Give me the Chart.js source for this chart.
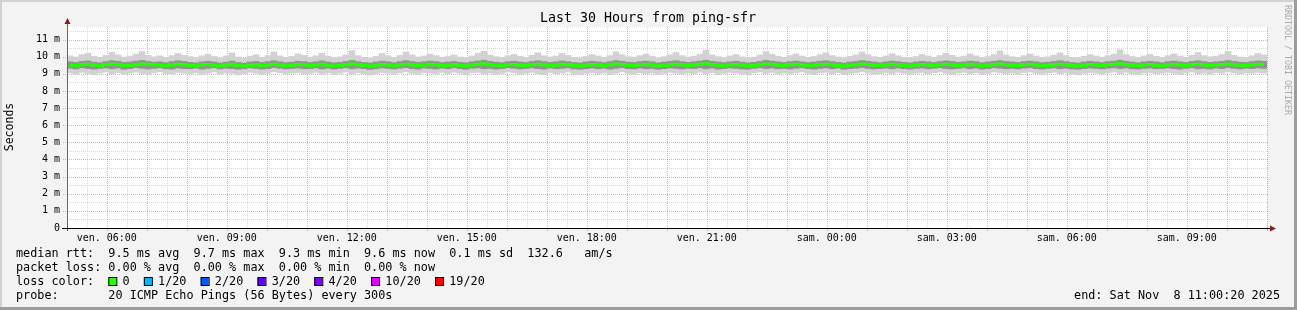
<!DOCTYPE html>
<html>
<head>
<meta charset="utf-8">
<script src="https://cdn.jsdelivr.net/npm/chart.js@4.4.0/dist/chart.umd.min.js"></script>
<style>
  body { margin: 0; background: #f3f3f3; }
  canvas { display: block; }
</style>
</head>
<body>
<canvas id="ping_chart" width="1297" height="310"></canvas>
<script>
// ping-sfr, last 30 hours, one sample every 9 minutes (ms)
var startHour = 5 + 20 / 3600   // fri 05:00:20
var stepHour = 0.15
var dayNames = ["ven.", "sam."]

var median = [
  9.50,9.48,9.53,9.55,9.51,9.47,9.52,9.56,9.54,9.49,9.50,9.53,9.57,9.55,9.52,9.50,9.48,9.51,9.55,9.53,
  9.49,9.47,9.52,9.54,9.50,9.46,9.51,9.55,9.49,9.45,9.50,9.53,9.48,9.52,9.56,9.51,9.47,9.50,9.54,9.52,
  9.48,9.51,9.55,9.50,9.46,9.49,9.53,9.57,9.52,9.48,9.45,9.50,9.54,9.51,9.47,9.52,9.56,9.53,9.49,9.51,
  9.55,9.52,9.48,9.50,9.53,9.49,9.46,9.51,9.55,9.58,9.53,9.50,9.47,9.52,9.54,9.50,9.48,9.53,9.56,9.52,
  9.49,9.51,9.55,9.52,9.48,9.45,9.50,9.54,9.51,9.47,9.52,9.57,9.54,9.50,9.48,9.52,9.55,9.51,9.46,9.49,
  9.53,9.56,9.52,9.49,9.51,9.55,9.58,9.54,9.50,9.47,9.51,9.54,9.50,9.46,9.49,9.53,9.57,9.55,9.51,9.48,
  9.52,9.55,9.51,9.48,9.50,9.54,9.56,9.52,9.49,9.45,9.50,9.53,9.57,9.54,9.50,9.47,9.51,9.55,9.52,9.49,
  9.46,9.50,9.54,9.51,9.48,9.52,9.56,9.53,9.49,9.51,9.55,9.52,9.47,9.50,9.54,9.57,9.53,9.50,9.48,9.52,
  9.55,9.51,9.47,9.49,9.53,9.56,9.52,9.48,9.45,9.50,9.54,9.51,9.48,9.52,9.55,9.58,9.54,9.50,9.47,9.51,
  9.54,9.50,9.47,9.52,9.55,9.51,9.48,9.53,9.56,9.52,9.49,9.51,9.54,9.57,9.53,9.50,9.48,9.52,9.56,9.54
]
var innerLo = [
  9.32,9.28,9.35,9.30,9.27,9.31,9.34,9.29,9.33,9.26,9.30,9.36,9.32,9.28,9.31,9.35,9.29,9.27,9.33,9.30,
  9.29,9.33,9.27,9.31,9.35,9.28,9.32,9.30,9.26,9.29,9.34,9.31,9.27,9.30,9.36,9.32,9.28,9.31,9.33,9.29,
  9.30,9.34,9.28,9.32,9.27,9.31,9.35,9.29,9.33,9.30,9.25,9.29,9.34,9.31,9.28,9.32,9.36,9.30,9.27,9.33,
  9.31,9.28,9.33,9.29,9.35,9.30,9.26,9.32,9.34,9.29,9.31,9.27,9.30,9.35,9.32,9.28,9.31,9.34,9.30,9.27,
  9.33,9.29,9.31,9.35,9.28,9.26,9.30,9.33,9.29,9.32,9.27,9.31,9.36,9.30,9.28,9.33,9.29,9.31,9.26,9.30,
  9.34,9.31,9.28,9.32,9.30,9.35,9.29,9.33,9.27,9.30,9.34,9.31,9.28,9.26,9.32,9.35,9.30,9.33,9.29,9.31,
  9.28,9.32,9.35,9.30,9.27,9.31,9.34,9.29,9.33,9.26,9.30,9.32,9.36,9.31,9.28,9.30,9.33,9.29,9.34,9.30,
  9.27,9.31,9.33,9.29,9.32,9.35,9.30,9.28,9.31,9.34,9.29,9.33,9.27,9.30,9.35,9.32,9.29,9.31,9.28,9.33,
  9.35,9.30,9.27,9.31,9.34,9.29,9.32,9.28,9.26,9.30,9.33,9.31,9.28,9.32,9.35,9.30,9.34,9.29,9.27,9.31,
  9.33,9.29,9.31,9.34,9.30,9.27,9.32,9.35,9.29,9.31,9.28,9.33,9.30,9.36,9.31,9.28,9.32,9.30,9.34,9.31
]
var innerHi = [
  9.70,9.66,9.72,9.75,9.68,9.64,9.71,9.77,9.73,9.67,9.69,9.74,9.78,9.72,9.68,9.70,9.65,9.71,9.76,9.72,
  9.67,9.64,9.70,9.73,9.69,9.63,9.68,9.74,9.66,9.62,9.69,9.72,9.66,9.71,9.76,9.70,9.65,9.68,9.73,9.71,
  9.66,9.70,9.75,9.69,9.64,9.67,9.72,9.78,9.71,9.66,9.63,9.69,9.74,9.70,9.65,9.71,9.77,9.72,9.67,9.70,
  9.74,9.71,9.66,9.69,9.72,9.67,9.64,9.70,9.75,9.79,9.72,9.68,9.65,9.71,9.73,9.69,9.66,9.72,9.76,9.71,
  9.67,9.70,9.75,9.71,9.66,9.63,9.69,9.73,9.70,9.65,9.71,9.77,9.73,9.68,9.66,9.71,9.74,9.70,9.64,9.68,
  9.72,9.76,9.71,9.67,9.70,9.74,9.79,9.73,9.69,9.65,9.70,9.73,9.68,9.64,9.67,9.72,9.78,9.74,9.70,9.66,
  9.71,9.74,9.70,9.66,9.69,9.73,9.76,9.71,9.67,9.63,9.69,9.72,9.77,9.73,9.69,9.65,9.70,9.74,9.71,9.67,
  9.64,9.69,9.73,9.70,9.66,9.71,9.75,9.72,9.67,9.70,9.74,9.71,9.65,9.69,9.73,9.77,9.72,9.69,9.66,9.71,
  9.74,9.70,9.65,9.68,9.72,9.76,9.71,9.66,9.63,9.69,9.73,9.70,9.66,9.71,9.74,9.79,9.73,9.69,9.65,9.70,
  9.73,9.69,9.65,9.71,9.74,9.70,9.66,9.72,9.76,9.71,9.67,9.70,9.73,9.77,9.72,9.68,9.66,9.71,9.75,9.73
]
var outerLo = [
  9.05,8.98,9.08,9.02,8.95,9.04,9.10,9.00,9.06,8.97,9.03,9.09,9.01,8.96,9.05,9.11,9.02,8.99,9.07,9.03,
  9.00,9.06,8.96,9.04,9.10,8.98,9.05,9.02,8.94,9.01,9.08,9.03,8.97,9.04,9.12,9.06,8.99,9.03,9.07,9.00,
  9.02,9.08,8.97,9.05,8.95,9.03,9.10,8.99,9.06,9.01,8.93,9.00,9.07,9.04,8.98,9.05,9.11,9.02,8.96,9.06,
  9.04,8.99,9.07,9.01,9.09,9.03,8.95,9.05,9.08,9.00,9.04,8.97,9.02,9.10,9.06,8.98,9.03,9.08,9.01,8.96,
  9.07,9.00,9.04,9.10,8.98,8.94,9.02,9.07,9.00,9.05,8.96,9.03,9.11,9.02,8.99,9.06,9.01,9.04,8.95,9.02,
  9.08,9.03,8.98,9.05,9.01,9.09,9.00,9.06,8.96,9.02,9.08,9.04,8.99,8.94,9.05,9.10,9.02,9.07,8.99,9.04,
  8.98,9.05,9.10,9.02,8.96,9.04,9.08,9.00,9.06,8.95,9.02,9.05,9.12,9.04,8.98,9.01,9.07,9.00,9.08,9.03,
  8.96,9.03,9.07,9.00,9.05,9.10,9.02,8.98,9.04,9.08,9.00,9.06,8.97,9.02,9.10,9.05,9.00,9.04,8.98,9.07,
  9.10,9.02,8.96,9.04,9.08,9.00,9.05,8.98,8.94,9.02,9.07,9.03,8.99,9.05,9.10,9.01,9.08,9.00,8.96,9.04,
  9.07,9.00,9.03,9.08,9.02,8.96,9.05,9.10,9.00,9.04,8.98,9.06,9.02,9.11,9.04,8.99,9.05,9.02,9.08,9.04
]
var outerHi = [
  10.05,9.98,10.12,10.20,10.02,9.95,10.08,10.25,10.10,9.97,10.03,10.15,10.30,10.08,9.99,10.05,9.94,10.06,10.18,10.07,
  10.00,9.93,10.05,10.14,10.02,9.92,10.04,10.22,9.98,9.90,10.03,10.11,9.96,10.06,10.28,10.05,9.95,10.02,10.16,10.07,
  9.97,10.05,10.20,10.03,9.93,9.99,10.10,10.35,10.06,9.96,9.91,10.02,10.18,10.05,9.95,10.07,10.26,10.10,9.98,10.04,
  10.15,10.06,9.96,10.01,10.10,9.98,9.93,10.04,10.20,10.32,10.09,10.00,9.94,10.06,10.13,10.02,9.96,10.08,10.22,10.05,
  9.98,10.04,10.18,10.07,9.96,9.91,10.02,10.12,10.04,9.95,10.06,10.28,10.11,10.00,9.97,10.06,10.15,10.03,9.93,10.00,
  10.10,10.24,10.06,9.98,10.03,10.14,10.38,10.10,10.00,9.94,10.04,10.12,9.99,9.92,9.98,10.09,10.30,10.14,10.03,9.96,
  10.06,10.16,10.04,9.96,10.01,10.12,10.22,10.06,9.98,9.91,10.02,10.10,10.27,10.12,10.00,9.95,10.04,10.17,10.05,9.97,
  9.93,10.01,10.13,10.04,9.96,10.07,10.20,10.08,9.98,10.03,10.16,10.05,9.94,10.01,10.12,10.34,10.09,10.00,9.96,10.06,
  10.16,10.04,9.95,9.99,10.09,10.22,10.06,9.96,9.91,10.02,10.12,10.04,9.97,10.06,10.15,10.40,10.12,10.01,9.95,10.04,
  10.13,10.02,9.95,10.06,10.16,10.04,9.97,10.08,10.24,10.06,9.99,10.03,10.12,10.30,10.08,9.98,9.96,10.05,10.18,10.10
]

var rttLine = "median rtt:  9.5 ms avg  9.7 ms max  9.3 ms min  9.6 ms now  0.1 ms sd  132.6   am/s"
var lossLine = "packet loss: 0.00 % avg  0.00 % max  0.00 % min  0.00 % now"
var probeLine = "probe:       20 ICMP Echo Pings (56 Bytes) every 300s"
var endLine = "end: Sat Nov  8 11:00:20 2025"
var lossLabels = ["0", "1/20", "2/20", "3/20", "4/20", "10/20", "19/20"]
var lossColors = ["#26ff00", "#00b8ff", "#0059ff", "#5e00ff", "#7e00ff", "#dd00ff", "#ff0000"]

var mono = '"DejaVu Sans Mono", monospace'
var redGrid = "rgba(255, 40, 40, 0.42)"
var grayGrid = "#d8d8d8"

var times = median.map(function (v, i) { return startHour + (i + 0.5) * stepHour })
function pairs(lo, hi) {
    return times.map(function (t, i) { return { x: t, y: [lo[i], hi[i]] } })
}

var xTicks = []
for (var h = 5.5; h <= 35; h += 0.5) xTicks.push(h)
var yTicks = []
for (var m = 0; m <= 11.5; m += 0.5) yTicks.push(m)

// rrdtool style dotted grid, drawn from the chart scales
var grid = {
    id: "grid",
    beforeDatasetsDraw: function (chart) {
        var ctx = chart.ctx, a = chart.chartArea
        var xs = chart.scales.x, ys = chart.scales.y
        ctx.save()
        ctx.lineWidth = 1
        // minor lines first, red major lines over them
        ;[false, true].forEach(function (wantMajor) {
            ctx.strokeStyle = wantMajor ? redGrid : grayGrid
            xTicks.forEach(function (v) {
                if ((v % 1 === 0) !== wantMajor) return
                var px = Math.round(xs.getPixelForValue(v)) + 0.5
                ctx.setLineDash([1, 1])
                ctx.beginPath(); ctx.moveTo(px, a.top); ctx.lineTo(px, a.bottom); ctx.stroke()
                if (wantMajor) {
                    ctx.setLineDash([])
                    ctx.beginPath(); ctx.moveTo(px, a.bottom); ctx.lineTo(px, a.bottom + 3); ctx.stroke()
                }
            })
            yTicks.forEach(function (v) {
                if ((v % 1 === 0) !== wantMajor) return
                var py = Math.round(ys.getPixelForValue(v)) + 0.5
                ctx.setLineDash([1, 1])
                ctx.beginPath(); ctx.moveTo(wantMajor ? a.left - 4 : a.left, py); ctx.lineTo(a.right + 2, py); ctx.stroke()
            })
        })
        ctx.restore()
    }
}

var frame = {
    id: "frame",
    beforeDraw: function (chart) {
        var ctx = chart.ctx, a = chart.chartArea
        ctx.save()
        ctx.fillStyle = "#d2d2d2"
        ctx.fillRect(0, 0, 1297, 310)
        ctx.fillStyle = "#9c9c9c"
        ctx.fillRect(1294, 0, 3, 310)
        ctx.fillRect(0, 307, 1297, 3)
        ctx.fillStyle = "#f3f3f3"
        ctx.fillRect(2, 2, 1292, 305)
        ctx.fillStyle = "#ffffff"
        ctx.fillRect(a.left, a.top, a.right - a.left, a.bottom - a.top)
        ctx.restore()
    },
    afterDraw: function (chart) {
        var ctx = chart.ctx, a = chart.chartArea
        ctx.save()
        // axes
        ctx.lineWidth = 1
        ctx.strokeStyle = "#666"
        ctx.beginPath(); ctx.moveTo(a.left + 0.5, a.bottom + 3); ctx.lineTo(a.left + 0.5, 23); ctx.stroke()
        ctx.strokeStyle = "#000"
        ctx.beginPath(); ctx.moveTo(a.left - 5, a.bottom + 0.5); ctx.lineTo(a.right + 4, a.bottom + 0.5); ctx.stroke()
        ctx.fillStyle = "#8b1c1c"
        ctx.beginPath(); ctx.moveTo(a.left + 0.5, 18); ctx.lineTo(a.left + 3.5, 24); ctx.lineTo(a.left - 2.5, 24); ctx.fill()
        ctx.beginPath(); ctx.moveTo(a.right + 9, a.bottom + 0.5); ctx.lineTo(a.right + 3, a.bottom - 2.5); ctx.lineTo(a.right + 3, a.bottom + 3.5); ctx.fill()

        // title and axis name
        ctx.fillStyle = "#000"
        ctx.textBaseline = "middle"
        ctx.textAlign = "center"
        ctx.font = "13.3px " + mono
        ctx.fillText("Last 30 Hours from ping-sfr", 648, 19)
        ctx.save()
        ctx.translate(10, 127)
        ctx.rotate(-Math.PI / 2)
        ctx.font = "11.5px " + mono
        ctx.fillText("Seconds", 0, 0)
        ctx.restore()

        ctx.save()
        ctx.translate(1287, 5)
        ctx.rotate(Math.PI / 2)
        ctx.textAlign = "left"
        ctx.fillStyle = "#aaa"
        ctx.font = "8.3px " + mono
        ctx.fillText("RRDTOOL / TOBI OETIKER", 0, 0)
        ctx.restore()

        // legend
        ctx.textAlign = "left"
        ctx.font = "11.8px " + mono
        var cw = ctx.measureText("0").width
        ctx.fillText(rttLine, 16, 254)
        ctx.fillText(lossLine, 16, 268)
        var x = 16
        ctx.fillText("loss color:", x, 282)
        x += 13 * cw
        lossLabels.forEach(function (lbl, i) {
            ctx.fillStyle = lossColors[i]
            ctx.fillRect(x, 277.5, 8, 8)
            ctx.strokeStyle = "#000"
            ctx.strokeRect(x + 0.5, 277.5, 8, 8)
            ctx.fillStyle = "#000"
            ctx.fillText(lbl, x + 2 * cw, 282)
            x += (lbl.length + 4) * cw
        })
        ctx.fillText(probeLine, 16, 296)
        ctx.textAlign = "right"
        ctx.fillText(endLine, 1280, 296)
        ctx.restore()
    }
}

var pingCanvas = document.getElementById("ping_chart")
var config = {
    type: "bar",
    data: {
        datasets: [{
            type: "line",
            label: "median",
            data: times.map(function (t, i) { return { x: t, y: median[i] } }),
            borderColor: "#22ff00",
            backgroundColor: "#22ff00",
            borderWidth: 3,
            stepped: "middle",
            pointRadius: 0,
            fill: false,
            order: 0
        },
        {
            label: "inner",
            data: pairs(innerLo, innerHi),
            backgroundColor: "#929292",
            borderWidth: 0,
            grouped: false,
            barPercentage: 1,
            categoryPercentage: 1,
            order: 1
        },
        {
            label: "outer",
            data: pairs(outerLo, outerHi),
            backgroundColor: "#d2d2d2",
            borderWidth: 0,
            grouped: false,
            barPercentage: 1,
            categoryPercentage: 1,
            order: 2
        }
        ]
    },
    options: {
        responsive: false,
        animation: false,
        devicePixelRatio: 1,
        layout: { padding: { top: 27, right: 30, left: 0, bottom: 0 } },
        plugins: { legend: { display: false }, tooltip: { enabled: false }, colors: { enabled: false } },
        scales: {
            x: {
                type: "linear",
                offset: false,
                min: startHour,
                max: startHour + 30,
                afterBuildTicks: function (s) { s.ticks = xTicks.map(function (v) { return { value: v } }) },
                afterFit: function (s) { s.height = 82 },
                ticks: {
                    autoSkip: false,
                    maxRotation: 0,
                    padding: 1,
                    color: "#000",
                    font: { family: mono, size: 10 },
                    callback: function (v) {
                        if (v % 3 !== 0) return ""
                        var hh = v % 24
                        return dayNames[Math.floor(v / 24)] + " " + (hh < 10 ? "0" : "") + hh + ":00"
                    }
                },
                grid: { display: false, tickLength: 3 },
                border: { display: false }
            },
            y: {
                min: 0,
                max: 11.73,
                afterBuildTicks: function (s) { s.ticks = yTicks.map(function (v) { return { value: v } }) },
                afterFit: function (s) { s.width = 67 },
                ticks: {
                    padding: 3,
                    color: "#000",
                    font: { family: mono, size: 10 },
                    callback: function (v) {
                        if (v % 1 !== 0) return ""
                        return v === 0 ? "0" : v + " m"
                    }
                },
                grid: { display: false, tickLength: 4 },
                border: { display: false }
            }
        }
    },
    plugins: [frame, grid]
}

var ping_chart = new Chart(pingCanvas, config)
</script>
</body>
</html>
